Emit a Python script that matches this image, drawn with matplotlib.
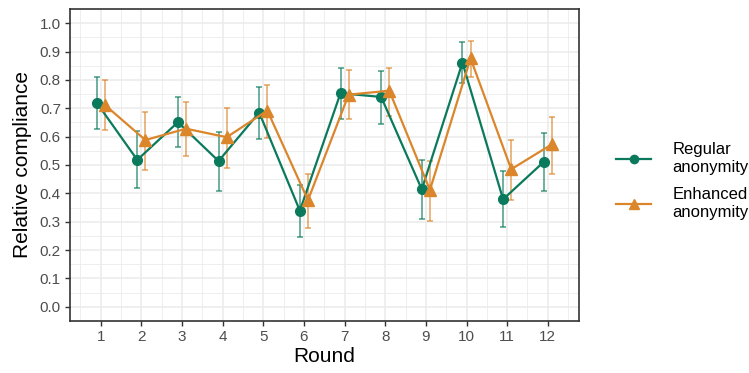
import matplotlib
matplotlib.use("Agg")
import matplotlib.pyplot as plt
import numpy as np
from matplotlib.ticker import MultipleLocator

plt.rcParams['font.family'] = ['Liberation Sans', 'DejaVu Sans']

rounds = [1, 2, 3, 4, 5, 6, 7, 8, 9, 10, 11, 12]
regular = [0.72, 0.518, 0.651, 0.514, 0.685, 0.339, 0.753, 0.740, 0.414, 0.861, 0.379, 0.511]
regular_lo = [0.627, 0.418, 0.562, 0.410, 0.592, 0.247, 0.662, 0.646, 0.310, 0.790, 0.280, 0.407]
regular_hi = [0.812, 0.620, 0.741, 0.616, 0.776, 0.430, 0.843, 0.833, 0.518, 0.932, 0.479, 0.614]
enhanced = [0.712, 0.588, 0.628, 0.598, 0.692, 0.376, 0.748, 0.762, 0.412, 0.876, 0.485, 0.573]
enhanced_lo = [0.624, 0.482, 0.533, 0.490, 0.595, 0.277, 0.662, 0.674, 0.302, 0.809, 0.376, 0.469]
enhanced_hi = [0.800, 0.688, 0.723, 0.701, 0.781, 0.470, 0.834, 0.843, 0.515, 0.937, 0.589, 0.668]

green = "#0B7A5C"
orange = "#DB862B"

fig = plt.figure(figsize=(7.49, 3.73), dpi=100)
ax = fig.add_axes([70/749, 1-320.7/373, (578.7-70)/749, (320.7-9.3)/373])

x = np.array(rounds, dtype=float)
dodge = 0.1
series = [
    ("Regular\nanonymity", regular, regular_lo, regular_hi, green, "o", -dodge, 7),
    ("Enhanced\nanonymity", enhanced, enhanced_lo, enhanced_hi, orange, "^", dodge, 8),
]
handles = []
for label, y, lo, hi, col, mk, off, ms in series:
    y = np.array(y); lo = np.array(lo); hi = np.array(hi)
    xs = x + off
    ax.errorbar(xs, y, yerr=[y - lo, hi - y], fmt='none', ecolor=col, alpha=0.75,
                elinewidth=1.1, capsize=2, capthick=1.1, zorder=3)
    h, = ax.plot(xs, y, color=col, lw=1.6, marker=mk, ms=ms, zorder=4, label=label)
    handles.append(h)

ax.set_xlim(0.245, 12.76)
ax.set_ylim(-0.049, 1.049)
ax.set_xticks(rounds)
ax.set_xticklabels([str(r) for r in rounds])
ax.set_yticks(np.arange(0, 1.01, 0.1))
ax.set_yticklabels([f"{v:.1f}" for v in np.arange(0, 1.01, 0.1)])
ax.set_xticks(np.arange(0.5, 13, 1.0), minor=True)
ax.yaxis.set_minor_locator(MultipleLocator(0.05))
ax.grid(which='major', color='#EBEBEB', lw=1.1, zorder=0)
ax.grid(which='minor', color='#EBEBEB', lw=0.6, zorder=0)
ax.set_axisbelow(True)
ax.tick_params(which='minor', length=0)
ax.tick_params(which='major', length=3.5, width=1, color='#333333', labelsize=11,
               labelcolor='#4D4D4D', pad=3)
for s in ax.spines.values():
    s.set_color('#333333')
    s.set_linewidth(1.2)
ax.set_xlabel("Round", fontsize=15, labelpad=2)
ax.set_ylabel("Relative compliance", fontsize=15, labelpad=6)

leg = fig.legend(handles=handles, loc='center left', bbox_to_anchor=(601/749, 0.515),
                 frameon=False, fontsize=12, handlelength=2.1, labelspacing=0.75,
                 handletextpad=1.3, markerscale=0.85)
fig.savefig("out.png", dpi=100)
